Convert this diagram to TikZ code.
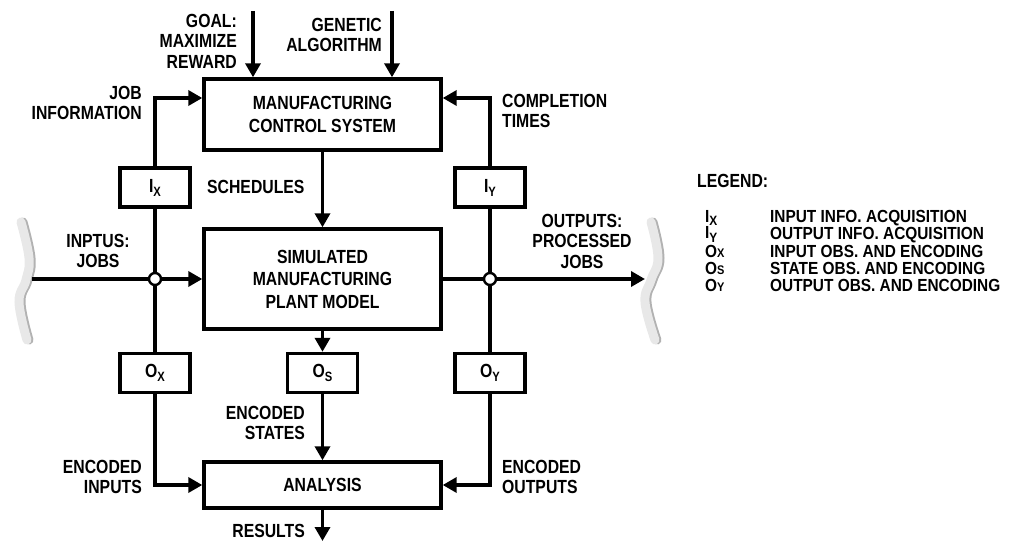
\documentclass[tikz,border=0pt]{standalone}
\usepackage{fontspec}
\setmainfont{Liberation Sans}[FakeStretch=0.83]
\newfontfamily\legendfam{Liberation Sans}[FakeStretch=0.88]
\usetikzlibrary{arrows.meta}
\usetikzlibrary{positioning}
\newcommand{\dgmfont}{\bfseries\fontsize{19}{20.5}\selectfont}
\newcommand{\legfont}{\legendfam\bfseries\fontsize{17.5}{17}\selectfont}
\newcommand{\lowsub}[1]{\raisebox{-0.4ex}{\fontsize{13.5}{13.5}\selectfont#1}}
\newcommand{\smallsub}[1]{{\fontsize{12.5}{12.5}\selectfont#1}}

\begin{document}
\begin{tikzpicture}[x=1pt, y=-1pt,
		txt/.style = {font=\dgmfont, inner sep=0pt},
		leg/.style = {font=\legfont, inner sep=0pt, anchor=west},
		blk/.style = {draw, line width=3.4pt, minimum width=237pt, align=center, inner sep=0pt,
			font=\bfseries\fontsize{19}{22.5}\selectfont},
		tag/.style = {draw, line width=3.4pt, minimum width=70pt, minimum height=39pt,
			font=\dgmfont, inner sep=0pt},
		wire/.style = {line width=3.4pt},
		flow/.style = {wire, -{Triangle[length=14pt, width=15pt]}},
		dot/.style = {circle, draw, fill=white, line width=2.4pt, minimum size=12pt, inner sep=0pt},
		brace/.style = {line width=9pt, line cap=round, gray!18},
		braceedge/.style = {brace, gray!60, xshift=2pt},
		]
		\useasboundingbox (0,0) rectangle (1013,543);
		
		% blocks
		\node[blk, minimum height=71pt] (ctrl) at (322.5,114.5) {MANUFACTURING\\CONTROL SYSTEM};
		\node[blk, minimum height=100pt] (sim) at (322.5,279) {SIMULATED\\MANUFACTURING\\PLANT MODEL};
		\node[blk, minimum height=46pt] (ana) at (322.5,485) {ANALYSIS};
		
		\node[tag] (ix) at (155,187.5) {I\lowsub{X}};
		\node[tag] (iy) at (490,187.5) {I\lowsub{Y}};
		\node[tag] (ox) at (155,373) {O\lowsub{X}};
		\node[tag] (os) at (322.5,373) {O\lowsub{S}};
		\node[tag] (oy) at (490,373) {O\lowsub{Y}};
		
		% grey brackets at both ends
		\draw[braceedge] plot[smooth, tension=0.7] coordinates {(21,222) (29,258) (26,280) (19,302) (27,340)};
		\draw[brace] plot[smooth, tension=0.7] coordinates {(21,222) (29,258) (26,280) (19,302) (27,340)};
		\draw[braceedge] plot[smooth, tension=0.7] coordinates {(651,222) (658,258) (651,280) (645,302) (655,340)};
		\draw[brace] plot[smooth, tension=0.7] coordinates {(651,222) (658,258) (651,280) (645,302) (655,340)};
		
		\coordinate (inbr) at (32,279);
		\coordinate (outbr) at (645,279);
		\coordinate (goalin) at (253,11);
		\coordinate (gain) at (392,11);
		\coordinate (res) at (322.5,541);
		
		% main flow
		\draw[flow] (inbr) -- (sim.west);
		\draw[flow] (sim.east) -- (outbr);
		\node[dot] (jin) at (155,279) {};
		\node[dot] (jout) at (490,279) {};
		
		\draw[flow] (goalin) -- (goalin |- ctrl.north);
		\draw[flow] (gain) -- (gain |- ctrl.north);
		\draw[flow] (ctrl) -- (sim);
		\draw[flow] (sim) -- (os);
		\draw[flow] (os) -- (ana);
		\draw[flow] (ana) -- (res);
		
		\draw[wire] (jin) -- (ix);
		\draw[wire] (jin) -- (ox);
		\draw[wire] (jout) -- (iy);
		\draw[wire] (jout) -- (oy);
		\draw[flow] (ix) |- ([yshift=16.5pt]ctrl.west);
		\draw[flow] (iy) |- ([yshift=16.5pt]ctrl.east);
		\draw[flow] (ox) |- (ana.west);
		\draw[flow] (oy) |- (ana.east);
		
		% labels
		\node[txt, anchor=east, align=right] (goal) at (237,41) {GOAL:\\MAXIMIZE\\REWARD};
		\node[txt, anchor=east, align=right] (ga) at (382,35) {GENETIC\\ALGORITHM};
		\node[txt, anchor=east, align=right] (jobinfo) at (142,103) {JOB\\INFORMATION};
		\node[txt, anchor=west, align=left] (compl) at (502,111) {COMPLETION\\TIMES};
		\node[txt, anchor=west] (sched) at (207,187) {SCHEDULES};
		\node[txt, align=center] (inlbl) at (98,251) {INPTUS:\\JOBS};
		\node[txt, align=center] (outlbl) at (582,241) {OUTPUTS:\\PROCESSED\\JOBS};
		\node[txt, anchor=east, align=right] (encs) at (305,423) {ENCODED\\STATES};
		\node[txt, anchor=east, align=right] (enci) at (142,477) {ENCODED\\INPUTS};
		\node[txt, anchor=west, align=left] (enco) at (502,477) {ENCODED\\OUTPUTS};
		\node[txt, anchor=east] (results) at (305,531) {RESULTS};
		
		% legend
		\node[txt, anchor=west] (legend) at (697,181) {LEGEND:};
		\foreach \sym/\desc [count=\k] in {I\lowsub{X}/INPUT INFO. ACQUISITION,
			I\lowsub{Y}/OUTPUT INFO. ACQUISITION,
			O\smallsub{X}/INPUT OBS. AND ENCODING,
			O\smallsub{S}/STATE OBS. AND ENCODING,
			O\smallsub{Y}/OUTPUT OBS. AND ENCODING}
		{
			\node[leg] (sym\k) at (705,218+16.75*\k-16.75) {\sym};
			\node[leg] (desc\k) at (770,218+16.75*\k-16.75) {\desc};
		}
		
\end{tikzpicture}
\end{document}
